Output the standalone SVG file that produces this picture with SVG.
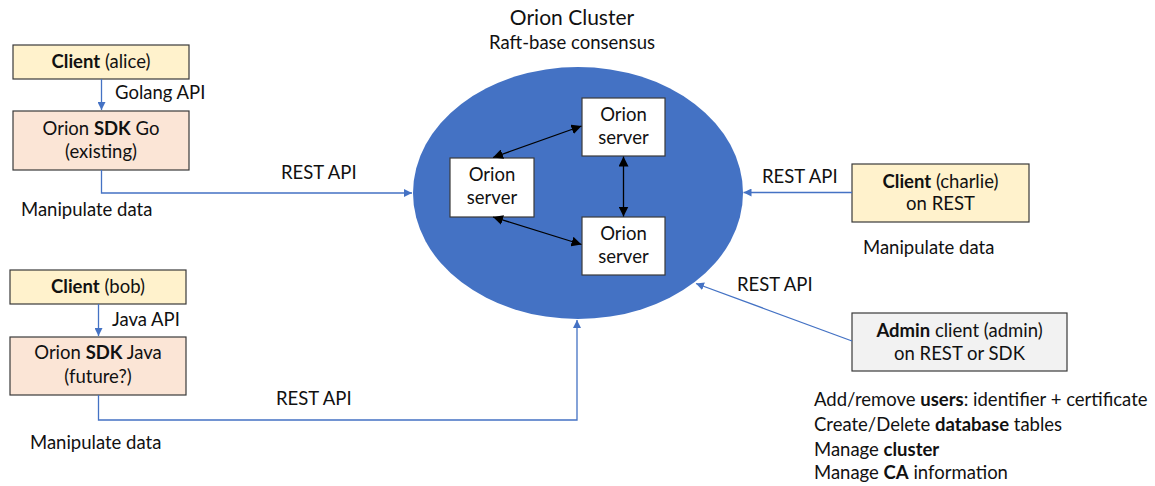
<svg xmlns="http://www.w3.org/2000/svg" width="1155" height="486" viewBox="0 0 1155 486">
<style>
text{font-family:Lato,"Liberation Sans",sans-serif;font-size:18.5px;fill:#111}
.c{text-anchor:middle}
.b{font-weight:bold}
.box{stroke:#3a3a3a;stroke-width:1.2}
.blue{fill:none;stroke:#4472C4;stroke-width:1.3}
.blk{fill:none;stroke:#000;stroke-width:1.3}
</style>
<defs>
<marker id="ab" viewBox="0 0 10 10" refX="10" refY="5" markerWidth="8" markerHeight="8" markerUnits="userSpaceOnUse" orient="auto-start-reverse"><path d="M0,0L10,5L0,10z" fill="#4472C4"/></marker>
<marker id="ak" viewBox="0 0 10 10" refX="10" refY="5" markerWidth="10" markerHeight="10" markerUnits="userSpaceOnUse" orient="auto-start-reverse"><path d="M0,0L10,5L0,10z" fill="#000"/></marker>
</defs>
<g id="cluster">
<ellipse cx="578" cy="193" rx="165" ry="126" fill="#4472C4"/>
<text class="c" x="572" y="25" style="font-size:21px">Orion Cluster</text>
<text class="c" x="572" y="49">Raft-base consensus</text>
</g>
<g id="server-left"><rect class="box" x="450" y="158" width="84" height="59" fill="#fff"/><text class="c" x="492" y="181">Orion</text><text class="c" x="492" y="204">server</text></g>
<g id="server-top"><rect class="box" x="582" y="98" width="83" height="58" fill="#fff"/><text class="c" x="623.5" y="121">Orion</text><text class="c" x="623.5" y="144">server</text></g>
<g id="server-bottom"><rect class="box" x="582" y="217" width="83" height="58" fill="#fff"/><text class="c" x="623.5" y="240">Orion</text><text class="c" x="623.5" y="263">server</text></g>
<g id="client-alice"><rect class="box" x="13" y="45" width="176" height="34" fill="#FFF2CC"/><text class="c" x="101" y="68"><tspan class="b">Client</tspan> (alice)</text></g>
<g id="sdk-go"><rect class="box" x="13" y="111" width="176" height="59" fill="#FBE5D6"/><text class="c" x="101" y="135">Orion <tspan class="b">SDK</tspan> Go</text><text class="c" x="101" y="158">(existing)</text></g>
<g id="client-bob"><rect class="box" x="10" y="270" width="176" height="34" fill="#FFF2CC"/><text class="c" x="98" y="293"><tspan class="b">Client</tspan> (bob)</text></g>
<g id="sdk-java"><rect class="box" x="10" y="337" width="176" height="58" fill="#FBE5D6"/><text class="c" x="98" y="359">Orion <tspan class="b">SDK</tspan> Java</text><text class="c" x="98" y="383">(future?)</text></g>
<g id="client-charlie"><rect class="box" x="852" y="164" width="177" height="58" fill="#FFF2CC"/><text class="c" x="940.5" y="188"><tspan class="b">Client</tspan> (charlie)</text><text class="c" x="940.5" y="210">on REST</text></g>
<g id="admin-client"><rect class="box" x="852" y="313" width="215" height="58" fill="#F2F2F2"/><text class="c" x="959.5" y="337"><tspan class="b">Admin</tspan> client (admin)</text><text class="c" x="959.5" y="360">on REST or SDK</text></g>
<g id="connectors">
<path class="blue" d="M101.5,79V110" marker-end="url(#ab)"/>
<path class="blue" d="M98.5,304V336" marker-end="url(#ab)"/>
<path class="blue" d="M101.5,170V193H412" marker-end="url(#ab)"/>
<path class="blue" d="M98.5,395V420H577V320" marker-end="url(#ab)"/>
<path class="blue" d="M852,192.5H743.5" marker-end="url(#ab)"/>
<path class="blue" d="M852,341L696,283.5" marker-end="url(#ab)"/>
<path class="blk" d="M493,157.5L581.5,126" marker-start="url(#ak)" marker-end="url(#ak)"/>
<path class="blk" d="M493,217L581.5,244.5" marker-start="url(#ak)" marker-end="url(#ak)"/>
<path class="blk" d="M623.5,156.5V216.5" marker-start="url(#ak)" marker-end="url(#ak)"/>
</g>
<g id="labels">
<text x="115" y="99">Golang API</text>
<text x="112" y="326">Java API</text>
<text x="21" y="216">Manipulate data</text>
<text x="30" y="449">Manipulate data</text>
<text x="863" y="254">Manipulate data</text>
<text x="281" y="179">REST API</text>
<text x="276" y="405">REST API</text>
<text x="762" y="183">REST API</text>
<text x="737" y="291">REST API</text>
<text x="814" y="406">Add/remove <tspan class="b">users</tspan>: identifier + certificate</text>
<text x="814" y="431">Create/Delete <tspan class="b">database</tspan> tables</text>
<text x="814" y="456">Manage <tspan class="b">cluster</tspan></text>
<text x="814" y="479">Manage <tspan class="b">CA</tspan> information</text>
</g>
</svg>
